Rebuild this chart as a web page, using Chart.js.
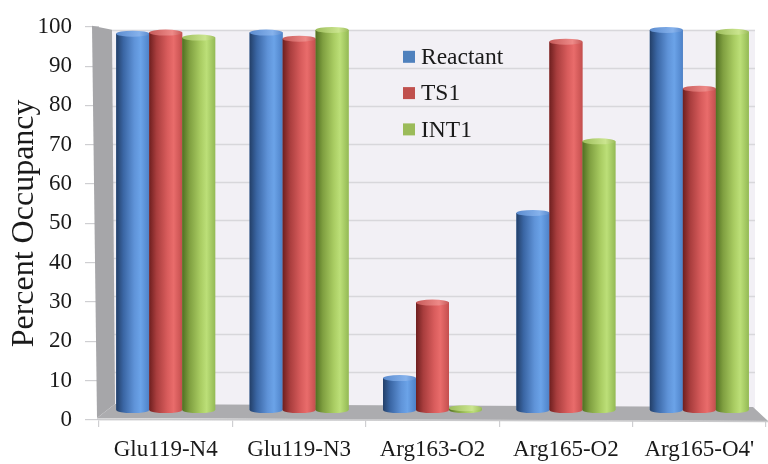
<!DOCTYPE html>
<html>
<head>
<meta charset="utf-8">
<title>Percent Occupancy</title>
<script src="https://cdn.jsdelivr.net/npm/chart.js@4/dist/chart.umd.min.js"></script>
<style>
  html, body { margin: 0; padding: 0; background: #ffffff; }
  canvas { display: block; }
</style>
</head>
<body>
<canvas id="chart" width="768" height="464"></canvas>
<script>
// Hydrogen-bond occupancy (%) for each contact along the reaction path
const categories = ['Glu119-N4', 'Glu119-N3', 'Arg163-O2', 'Arg165-O2', "Arg165-O4'"];
const seriesNames = ['Reactant', 'TS1', 'INT1'];
const reactant = [98.7, 99.0, 8.4, 51.7, 99.7];
const ts1 = [99.0, 97.4, 28.2, 96.6, 84.3];
const int1 = [97.7, 99.7, 0.5, 70.5, 99.2];
const yTickValues = [0, 10, 20, 30, 40, 50, 60, 70, 80, 90, 100];

// Styling: flat series colours plus cylinder shading (left edge -> highlight -> right edge)
const seriesColors = ['#4f81bd', '#c0504d', '#9bbb59'];
const bodyShades = [
  ['#233f68', '#3a66a4', '#5f93d8', '#6ba3e8', '#4e82c8'],
  ['#6e1f1f', '#a83d3d', '#d85c5c', '#e96c6b', '#c44f4e'],
  ['#516f22', '#7f9f40', '#a9cc62', '#bcdf78', '#94ba55']
];
const topShades = [
  ['#5c8ccf', '#86b2ec'],
  ['#c65a59', '#ee8a88'],
  ['#9dbd5c', '#cbe58f']
];
const shadeStops = [0, 0.22, 0.55, 0.74, 1];

const serif = "'Liberation Serif', 'Times New Roman', serif";
Chart.defaults.font.family = serif;
Chart.defaults.color = '#1a1a1a';

// Back wall, side wall and floor of the 3-D plot box
const plotBox = {
  id: 'plotBox',
  beforeDatasetsDraw(chart) {
    const { ctx, chartArea: a, scales } = chart;
    const y = scales.y;
    const L = a.left, R = a.right, T = a.top, B = a.bottom;
    const wallL = L + 13, wallR = R - 11;
    const wallTop = T + 3, wallSpan = 380;
    const wallY = v => wallTop + (y.getPixelForValue(v) - T) * wallSpan / (B - T);

    ctx.save();
    // back wall
    ctx.fillStyle = '#f2f0f5';
    ctx.fillRect(wallL, wallY(100), wallR - wallL, wallY(0) - wallY(100));
    // gridlines on the back wall
    ctx.strokeStyle = '#d8d7db';
    ctx.lineWidth = 1.6;
    yTickValues.forEach(v => {
      const py = Math.round(wallY(v)) + 0.5;
      ctx.beginPath();
      ctx.moveTo(wallL, py);
      ctx.lineTo(wallR, py);
      ctx.stroke();
    });
    // left side wall
    ctx.fillStyle = '#a6a6a9';
    ctx.beginPath();
    ctx.moveTo(L - 7, T - 1);
    ctx.lineTo(wallL, wallTop);
    ctx.lineTo(L + 16, B - 16);
    ctx.lineTo(L - 2, B - 2);
    ctx.closePath();
    ctx.fill();
    // floor
    ctx.fillStyle = '#acacaf';
    ctx.beginPath();
    ctx.moveTo(L - 2, B - 2);
    ctx.lineTo(L + 16, B - 16);
    ctx.lineTo(R - 13, B - 13);
    ctx.lineTo(R + 2, B + 1);
    ctx.closePath();
    ctx.fill();
    // lighter front rim of the floor
    ctx.strokeStyle = '#c9c9cb';
    ctx.lineWidth = 1.5;
    ctx.beginPath();
    ctx.moveTo(L - 2, B - 1);
    ctx.lineTo(R + 2, B + 1.5);
    ctx.stroke();
    ctx.restore();
  }
};

// Paint each bar element as a shaded cylinder using the element geometry
const cylinders = {
  id: 'cylinders',
  afterDatasetsDraw(chart) {
    const ctx = chart.ctx;
    chart.data.datasets.forEach((ds, di) => {
      const meta = chart.getDatasetMeta(di);
      if (meta.hidden) return;
      meta.data.forEach(el => {
        const { x, y, base, width } = el.getProps(['x', 'y', 'base', 'width'], true);
        const rx = width / 2, ry = 3;
        const left = x - rx, right = x + rx;
        ctx.save();
        const g = ctx.createLinearGradient(left, 0, right, 0);
        bodyShades[di].forEach((c, k) => g.addColorStop(shadeStops[k], c));
        ctx.fillStyle = g;
        ctx.beginPath();
        ctx.moveTo(left, y);
        ctx.lineTo(left, base);
        ctx.ellipse(x, base, rx, ry, 0, Math.PI, 0, true);
        ctx.lineTo(right, y);
        ctx.closePath();
        ctx.fill();
        const tg = ctx.createLinearGradient(left, 0, right, 0);
        tg.addColorStop(0, topShades[di][0]);
        tg.addColorStop(0.7, topShades[di][1]);
        tg.addColorStop(1, topShades[di][0]);
        ctx.fillStyle = tg;
        ctx.beginPath();
        ctx.ellipse(x, y, rx, ry, 0, 0, Math.PI * 2);
        ctx.fill();
        ctx.restore();
      });
    });
  }
};

// Series key inside the plot
const seriesKey = {
  id: 'seriesKey',
  afterDraw(chart) {
    const { ctx, chartArea: a } = chart;
    const bx = a.left + 304, by = a.top + 30, step = 36.3, box = 12;
    ctx.save();
    ctx.font = '23.5px ' + serif;
    ctx.textBaseline = 'middle';
    ctx.textAlign = 'left';
    chart.data.datasets.forEach((ds, i) => {
      const cy = by + i * step;
      ctx.fillStyle = ds.backgroundColor;
      ctx.fillRect(bx, cy - box / 2, box, box);
      ctx.fillStyle = '#1a1a1a';
      ctx.fillText(ds.label, bx + 18, cy + 1);
    });
    ctx.restore();
  }
};

const seriesValues = [reactant, ts1, int1];

new Chart(document.getElementById('chart'), {
  type: 'bar',
  data: {
    labels: categories,
    datasets: seriesNames.map((name, i) => ({
      label: name,
      data: seriesValues[i],
      backgroundColor: seriesColors[i],
      borderWidth: 0,
      yAxisID: 'yBar',
      categoryPercentage: 0.742,
      barPercentage: 1.0
    }))
  },
  options: {
    responsive: false,
    animation: false,
    devicePixelRatio: 1,
    layout: { padding: { top: 25, right: 2, left: 0, bottom: 0 } },
    plugins: {
      legend: { display: false },
      tooltip: { enabled: false }
    },
    scales: {
      x: {
        type: 'category',
        offset: true,
        grid: { offset: true, drawOnChartArea: false, tickLength: 7, color: '#cfcfd2', lineWidth: 1.2 },
        border: { display: true, color: '#d6d6d8', width: 1.5 },
        ticks: { font: { size: 23, family: serif }, color: '#1a1a1a', padding: 9, maxRotation: 0, autoSkip: false },
        afterFit(scale) { scale.height = 44; }
      },
      y: {
        min: 0,
        max: 100,
        afterBuildTicks(scale) { scale.ticks = yTickValues.map(v => ({ value: v })); },
        grid: { drawOnChartArea: false, tickLength: 14, color: '#cfcfd2', lineWidth: 1.2 },
        border: { display: false },
        ticks: { font: { size: 23, family: serif }, color: '#1a1a1a', padding: 13 },
        title: {
          display: true,
          text: 'Percent Occupancy',
          font: { size: 32, family: serif },
          color: '#1a1a1a',
          padding: { top: 5, bottom: 0 }
        },
        afterFit(scale) { scale.width = 99; }
      },
      yBar: {
        display: false,
        min: -2.61,
        max: 100.52
      }
    }
  },
  plugins: [plotBox, cylinders, seriesKey]
});
</script>
</body>
</html>
